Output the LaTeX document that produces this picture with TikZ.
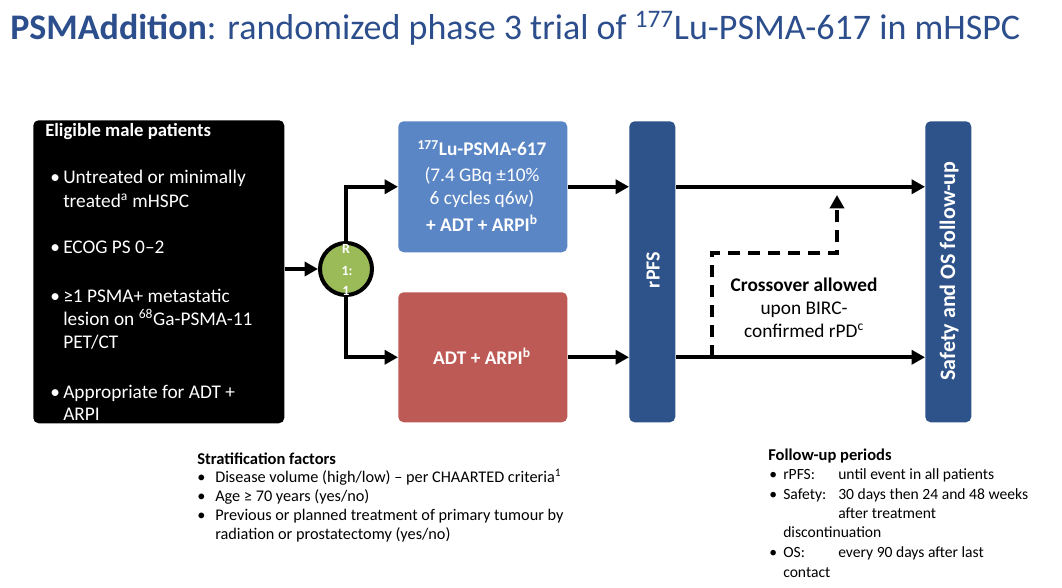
\documentclass[tikz,border=0pt]{standalone}
\usepackage{fontspec}
\setmainfont{Carlito}
\usetikzlibrary{arrows.meta}
\definecolor{titleblue}{RGB}{44,78,140}
\definecolor{lublue}{RGB}{91,134,197}
\definecolor{adtred}{RGB}{190,90,85}
\definecolor{bardark}{RGB}{46,82,138}
\definecolor{randgreen}{RGB}{155,187,89}
\begin{document}
\begin{tikzpicture}[x=0.75pt,y=-0.75pt,
  txt/.style={inner sep=0pt, anchor=base west},
  ctxt/.style={inner sep=0pt, anchor=base},
  boxfont/.style={font=\fontsize{14.5pt}{16pt}\selectfont},
  boxbold/.style={font=\bfseries\fontsize{14.5pt}{16pt}\selectfont},
  stratfont/.style={font=\fontsize{12.2pt}{14pt}\selectfont},
  fupfont/.style={font=\fontsize{11.7pt}{14pt}\selectfont},
  headfont/.style={font=\bfseries\fontsize{12.4pt}{14pt}\selectfont},
  panel/.style={draw=none, rounded corners=4pt, inner sep=0pt, anchor=north west},
  conn/.style={line width=3pt, -{Triangle[length=10pt,width=10.5pt]}},
  crossline/.style={line width=3pt, dash pattern=on 9pt off 6pt, -{Triangle[length=10pt,width=10.5pt]}}
]
\useasboundingbox (0,0) rectangle (1062,588);

% title
\node[txt, text=titleblue, font=\fontsize{27pt}{31pt}\selectfont] (title) at (10,40)
  {\textbf{PSMAddition}: randomized phase 3 trial of \textsuperscript{177}Lu-PSMA-617 in mHSPC};

% eligibility box
\node[panel, fill=black, minimum width=188.25pt, minimum height=227.25pt] (elig) at (33,120) {};
\node[txt, text=white, font=\bfseries\fontsize{14pt}{16pt}\selectfont] (eh) at (45,137) {Eligible male patients};
\begin{scope}[every node/.style={txt, text=white, boxfont}]
\node (b1) at (50,183) {•};
\node (e1a) at (63,183) {Untreated or minimally};
\node (e1b) at (63,207) {treated\textsuperscript{a} mHSPC};
\node (b2) at (50,253) {•};
\node (e2) at (63,253) {ECOG PS 0–2};
\node (b3) at (50,302) {•};
\node (e3a) at (63,302) {≥1 PSMA+ metastatic};
\node (e3b) at (63,325) {lesion on \textsuperscript{68}Ga-PSMA-11};
\node (e3c) at (63,348) {PET/CT};
\node (b4) at (50,398) {•};
\node (e4a) at (63,398) {Appropriate for ADT +};
\node (e4b) at (63,420) {ARPI};
\end{scope}

% randomisation
\node[circle, draw=black, line width=3pt, fill=randgreen, minimum size=39pt, inner sep=0pt] (rand) at (346,269) {};
\begin{scope}[every node/.style={ctxt, text=white, font=\bfseries\fontsize{10.5pt}{12pt}\selectfont}]
\node (r1) at (346,253) {R};
\node (r2) at (347,275) {1:};
\node (r3) at (346,295) {1};
\end{scope}

% arms
\node[panel, fill=lublue, minimum width=126.75pt, minimum height=98.25pt] (lu) at (398,121) {};
\begin{scope}[every node/.style={ctxt, text=white, boxfont}]
\node[boxbold] (l1) at (482,156) {\textsuperscript{177}Lu-PSMA-617};
\node (l2) at (482,181) {(7.4 GBq ±10\%};
\node (l3) at (482,204) {6 cycles q6w)};
\node[boxbold] (l4) at (482,231) {+ ADT + ARPI\textsuperscript{b}};
\end{scope}
\node[panel, fill=adtred, minimum width=126.75pt, minimum height=97.5pt] (adt) at (398,292) {};
\node[ctxt, text=white, boxbold] (a1) at (482,364) {ADT + ARPI\textsuperscript{b}};

% bars
\node[panel, fill=bardark, minimum width=34.5pt, minimum height=225.75pt] (rpfs) at (629,121) {};
\node[rotate=90, text=white, font=\bfseries\fontsize{15pt}{17pt}\selectfont, inner sep=0pt] (rpfst) at (653,270) {rPFS};
\node[panel, fill=bardark, minimum width=34.5pt, minimum height=225.75pt] (safe) at (925,121) {};
\node[rotate=90, text=white, font=\bfseries\fontsize{16.5pt}{18pt}\selectfont, inner sep=0pt] (safet) at (949,271) {Safety and OS follow-up};

% connectors
\draw[conn] (elig.east |- rand) -- (rand.west);
\draw[conn] (rand.north) |- (lu.west);
\draw[conn] (rand.south) |- (adt.west);
\draw[conn] (lu.east) -- (lu.east -| rpfs.west);
\draw[conn] (adt.east) -- (adt.east -| rpfs.west);
\draw[conn] (lu.east -| rpfs.east) -- (lu.east -| safe.west);
\draw[conn] (adt.east -| rpfs.east) -- (adt.east -| safe.west);

% crossover
\coordinate (xo1) at (712,357);
\coordinate (xo2) at (837,253);
\coordinate (xo3) at (837,195);
\draw[crossline] (xo1) |- (xo2) -- (xo3);
\node[ctxt, boxbold] (c1) at (804,291) {Crossover allowed};
\node[ctxt, boxfont] (c2) at (804,314) {upon BIRC-};
\node[ctxt, boxfont] (c3) at (804,337) {confirmed rPD\textsuperscript{c}};

% stratification
\begin{scope}[every node/.style={txt, stratfont}]
\node[headfont] (sh) at (197,464) {Stratification factors};
\node (sb1) at (197,482) {•};
\node (s1) at (215,482) {Disease volume (high/low) – per CHAARTED criteria\textsuperscript{1}};
\node (sb2) at (197,501) {•};
\node (s2) at (215,501) {Age ≥ 70 years (yes/no)};
\node (sb3) at (197,520) {•};
\node (s3a) at (215,520) {Previous or planned treatment of primary tumour by};
\node (s3b) at (215,539) {radiation or prostatectomy (yes/no)};
\end{scope}

% follow-up
\begin{scope}[every node/.style={txt, fupfont}]
\node[headfont] (fh) at (768,460) {Follow-up periods};
\node (fb1) at (769,479) {•};
\node (f1a) at (783,479) {rPFS:};
\node (f1b) at (838,479) {until event in all patients};
\node (fb2) at (769,499) {•};
\node (f2a) at (783,499) {Safety:};
\node (f2b) at (838,499) {30 days then 24 and 48 weeks};
\node (f2c) at (838,518) {after treatment};
\node (f2d) at (783,537) {discontinuation};
\node (fb3) at (769,557) {•};
\node (f3a) at (783,557) {OS:};
\node (f3b) at (838,557) {every 90 days after last};
\node (f3c) at (783,577) {contact};
\end{scope}
\end{tikzpicture}
\end{document}
